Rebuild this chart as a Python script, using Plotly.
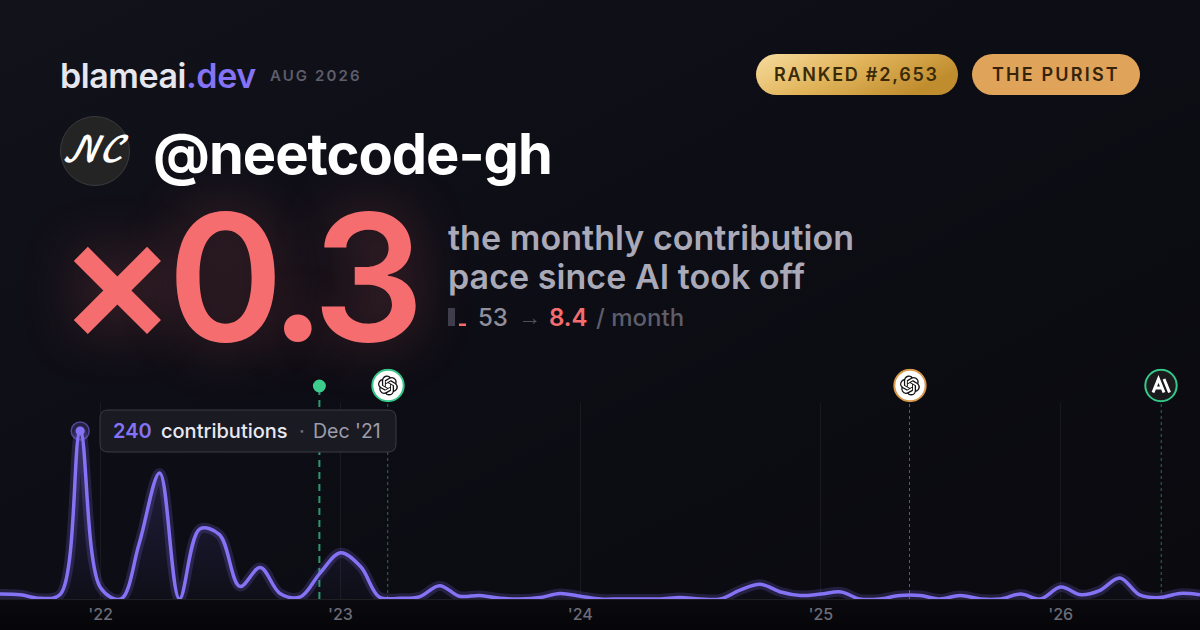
import base64
import pandas as pd
import plotly.graph_objects as go

# monthly contributions, Aug '21 -> Aug '26
months = pd.date_range("2021-08-01", periods=61, freq="MS")
contributions = [
    7, 6, 1, 7, 240, 16, 0, 80, 180, 0, 100, 92,
    18, 45, 8, 3, 37, 66, 46, 3, 1, 3, 19, 4,
    5, 1, 0, 2, 8, 4, 0, 0, 0, 0, 2, 0,
    0, 13, 21, 10, 5, 7, 10, 0, 0, 5, 5, 0,
    5, 0, 0, 7, 0, 17, 6, 12, 30, 6, 2, 8, 6,
]
peak_month = ["2021-12-01"]
peak_value = [240]

# model release markers
event_dates = ["2022-11-30", "2023-03-14", "2025-05-16", "2026-06-03"]
event_colors = ["#34c88a", "#34c88a", "#d9984a", "#34c88a"]

PURPLE = "#8473f4"
RED = "#f66d6f"
FONT = "Inter"
SMOOTH = 1.0

# plot area is y 403..599 in the 630px picture
def px(x):
    return x / 1200

def py(y):
    return (599 - y) / 196

def data_uri(svg):
    return "data:image/svg+xml;base64," + base64.b64encode(svg.encode()).decode()

OPENAI_PATH = ("M22.2819 9.8211a5.9847 5.9847 0 0 0-.5157-4.9108 6.0462 6.0462 0 0 0-6.5098-2.9A6.0651 6.0651 0 0 0 4.9807 4.1818a5.9847 5.9847 0 0 0-3.9977 2.9 6.0462 6.0462 0 0 0 .7427 7.0966 5.98 5.98 0 0 0 .511 4.9107 6.051 6.051 0 0 0 6.5146 2.9001A5.9847 5.9847 0 0 0 13.2599 24a6.0557 6.0557 0 0 0 5.7718-4.2058 5.9894 5.9894 0 0 0 3.9977-2.9001 6.0557 6.0557 0 0 0-.7475-7.0729zm-9.022 12.6081a4.4755 4.4755 0 0 1-2.8764-1.0408l.1419-.0804 4.7783-2.7582a.7948.7948 0 0 0 .3927-.6813v-6.7369l2.02 1.1686a.071.071 0 0 1 .038.052v5.5826a4.504 4.504 0 0 1-4.4945 4.4944zm-9.6607-4.1254a4.4708 4.4708 0 0 1-.5346-3.0137l.142.0852 4.783 2.7582a.7712.7712 0 0 0 .7806 0l5.8428-3.3685v2.3324a.0804.0804 0 0 1-.0332.0615L9.74 19.9502a4.4992 4.4992 0 0 1-6.1408-1.6464zM2.3408 7.8956a4.485 4.485 0 0 1 2.3655-1.9728V11.6a.7664.7664 0 0 0 .3879.6765l5.8144 3.3543-2.0201 1.1685a.0757.0757 0 0 1-.071 0l-4.8303-2.7865A4.504 4.504 0 0 1 2.3408 7.872zm16.5963 3.8558L13.1038 8.364 15.1192 7.2a.0757.0757 0 0 1 .071 0l4.8303 2.7913a4.4944 4.4944 0 0 1-.6765 8.1042v-5.6772a.79.79 0 0 0-.407-.667zm2.0107-3.0231l-.142-.0852-4.7735-2.7818a.7759.7759 0 0 0-.7854 0L9.409 9.2297V6.8974a.0662.0662 0 0 1 .0284-.0615l4.8303-2.7866a4.4992 4.4992 0 0 1 6.6802 4.66zM8.3065 12.863l-2.02-1.1638a.0804.0804 0 0 1-.038-.0567V6.0742a4.4992 4.4992 0 0 1 7.3757-3.4537l-.142.0805L8.704 5.459a.7948.7948 0 0 0-.3927.6813zm1.0976-2.3654l2.602-1.4998 2.6069 1.4998v2.9994l-2.5974 1.4997-2.6067-1.4997Z")

def openai_icon(ring):
    return data_uri(f'''<svg xmlns="http://www.w3.org/2000/svg" width="34" height="34" viewBox="0 0 34 34">
<circle cx="17" cy="17" r="15.7" fill="#fff" stroke="{ring}" stroke-width="2"/>
<g transform="translate(7 7) scale(.83)"><path d="{OPENAI_PATH}" fill="#111"/></g></svg>''')

def anthropic_icon(ring):
    return data_uri(f'''<svg xmlns="http://www.w3.org/2000/svg" width="34" height="34" viewBox="0 0 34 34">
<circle cx="17" cy="17" r="15.7" fill="#1b1b1e" stroke="{ring}" stroke-width="2"/>
<path d="M9 24 14.5 10.5 20 24M11.5 19.5H17.5M20 10.5 25.5 24" fill="none" stroke="#fff" stroke-width="3"/></svg>''')

background = f'''<svg xmlns="http://www.w3.org/2000/svg" width="1200" height="630" viewBox="0 0 1200 630">
<defs>
<linearGradient id="bg" x1="0" y1="0" x2="1" y2="1"><stop offset="0" stop-color="#12121b"/><stop offset=".45" stop-color="#0d0d15"/><stop offset="1" stop-color="#0a0a0f"/></linearGradient>
<linearGradient id="floor" x1="0" y1="0" x2="0" y2="1"><stop offset="0" stop-color="#0a0a0f"/><stop offset="1" stop-color="#060609"/></linearGradient>
<linearGradient id="gold" x1="0" y1="0" x2="1" y2=".4"><stop offset="0" stop-color="#f6dc9e"/><stop offset=".5" stop-color="#e2b55c"/><stop offset="1" stop-color="#c08d2e"/></linearGradient>
</defs>
<rect width="1200" height="630" fill="url(#bg)"/>
<rect y="599" width="1200" height="31" fill="url(#floor)"/>
<rect x="756" y="54" width="202" height="41" rx="20.5" fill="url(#gold)"/>
<rect x="972" y="54" width="168" height="41" rx="20.5" fill="#dfa35a"/>
</svg>'''

fig = go.Figure()
fig.add_trace(go.Scatter(
    x=months, y=contributions, mode="none", fill="tozeroy",
    line=dict(shape="spline", smoothing=SMOOTH),
    fillgradient=dict(type="vertical", colorscale=[[0, "rgba(128,112,240,0.02)"], [1, "rgba(128,112,240,0.22)"]]),
    hoverinfo="skip",
))
fig.add_trace(go.Scatter(
    x=months, y=contributions, mode="lines", cliponaxis=False,
    line=dict(shape="spline", smoothing=SMOOTH, color="rgba(128,112,240,0.2)", width=10),
    hoverinfo="skip",
))
fig.add_trace(go.Scatter(
    x=months, y=contributions, mode="lines", cliponaxis=False,
    line=dict(shape="spline", smoothing=SMOOTH, color=PURPLE, width=3.5),
    hoverinfo="skip",
))
fig.add_trace(go.Scatter(
    x=peak_month, y=peak_value, mode="markers", cliponaxis=False,
    marker=dict(size=18, color="rgba(128,112,240,0.2)", line=dict(color="rgba(128,112,240,0.55)", width=1.5)),
    hoverinfo="skip",
))
fig.add_trace(go.Scatter(
    x=peak_month, y=peak_value, mode="markers", cliponaxis=False,
    marker=dict(size=9, color=PURPLE),
    hoverinfo="skip",
))

shapes = []
# launch line, heavier than the rest
shapes.append(dict(type="line", xref="x", yref="paper", x0=event_dates[0], x1=event_dates[0],
                   y0=0, y1=py(392), layer="below",
                   line=dict(color="rgba(52,200,138,0.75)", width=2, dash="7px,5px")))
for d, c in zip(event_dates[1:], event_colors[1:]):
    shapes.append(dict(type="line", xref="x", yref="paper", x0=d, x1=d, y0=0, y1=py(402), layer="below",
                       opacity=0.55, line=dict(color=c, width=1, dash="3px,3px")))
shapes.append(dict(type="circle", xref="x", yref="paper", xsizemode="pixel", ysizemode="pixel",
                   xanchor=event_dates[0], yanchor=py(386), x0=-6.5, x1=6.5, y0=-6.5, y1=6.5,
                   fillcolor="#3ccf8e", line=dict(width=0)))
# tooltip box
shapes.append(dict(type="path", xref="paper", yref="paper",
                   path=f"M {px(108)} {py(410)} L {px(388)} {py(410)} Q {px(396)} {py(410)} {px(396)} {py(418)} "
                        f"L {px(396)} {py(444)} Q {px(396)} {py(452)} {px(388)} {py(452)} L {px(108)} {py(452)} "
                        f"Q {px(100)} {py(452)} {px(100)} {py(444)} L {px(100)} {py(418)} Q {px(100)} {py(410)} {px(108)} {py(410)} Z",
                   fillcolor="#1a1a23", line=dict(color="#3b3b45", width=1)))
# avatar
shapes.append(dict(type="circle", xref="paper", yref="paper", x0=px(60.5), x1=px(129.5), y0=py(116.5), y1=py(185.5),
                   fillcolor="#242424", line=dict(color="#3a3a3e", width=1)))
# small before/after bars
shapes.append(dict(type="rect", xref="paper", yref="paper", x0=px(448), x1=px(455), y0=py(326), y1=py(308),
                   fillcolor="#3c3d4c", line=dict(width=0)))
shapes.append(dict(type="rect", xref="paper", yref="paper", x0=px(459), x1=px(466), y0=py(326), y1=py(323.5),
                   fillcolor=RED, line=dict(width=0)))

def label(x, y, text, size, color, weight=400, anchor="left", family=FONT, spacing=None, shadow=None, style="normal"):
    if spacing is not None:
        text = f'<span style="letter-spacing:{spacing}px">{text}</span>'
    font = dict(family=family, size=size, color=color, weight=weight, style=style)
    if shadow:
        font["shadow"] = shadow
    return dict(xref="paper", yref="paper", x=px(x), y=py(y), text=text, showarrow=False,
                xanchor=anchor, yanchor="middle", borderpad=0, borderwidth=0, font=font)

annotations = [
    label(60, 75, f'blameai<span style="fill:{PURPLE}">.dev</span>', 34, "#e6e6ef", 600, spacing=-0.45),
    label(270, 75, "AUG 2026", 15, "#5d5d6c", 600, spacing=2.1),
    label(857, 74, "RANKED #2,653", 18, "#3a2a08", 600, "center", spacing=1.75),
    label(1056, 74, "THE PURIST", 18, "#35230a", 600, "center", spacing=2.2),
    label(95, 151, "𝒩𝒞", 34, "#ffffff", 700, "center", family="DejaVu Math TeX Gyre, Liberation Serif", style="italic"),
    label(153, 154, "@neetcode-gh", 56, "#ffffff", 700, spacing=-1),
    label(57.5, 276, "×0.3", 176, RED, 600, spacing=-9, shadow="0 0 60px rgba(246,109,111,0.3)"),
    label(448, 237, "the monthly contribution", 34, "#a9a9b8", 600, spacing=0.05),
    label(448, 276, "pace since AI took off", 34, "#a9a9b8", 600, spacing=0.05),
    label(478, 317, "53", 24, "#90909c", 500),
    label(518, 317, "→", 23, "#50505c", 400, family="Liberation Sans"),
    label(549, 317, "8.4", 24, RED, 600),
    label(596, 317, "/ month", 24, "#5d5d6b", 500),
    label(113, 431, str(peak_value[0]), 20, PURPLE, 600),
    label(161, 431, "contributions", 20, "#e8e8f0", 500),
    label(299, 431, "·", 19, "#6a6a76", 500),
    label(313, 431, "Dec '21", 19.5, "#9d9daa", 400),
]

images = [dict(source=data_uri(background), xref="paper", yref="paper", x=0, y=py(0), sizex=1,
               sizey=630 / 196, xanchor="left", yanchor="top", sizing="stretch", layer="below")]
icons = [(388, openai_icon(event_colors[1])), (910, openai_icon(event_colors[2])), (1161, anthropic_icon(event_colors[3]))]
for x, src in icons:
    images.append(dict(source=src, xref="paper", yref="paper", x=px(x), y=py(385.5), sizex=34 / 1200, sizey=34 / 196,
                       xanchor="center", yanchor="middle", sizing="stretch", layer="above"))

fig.update_layout(
    width=1200, height=630,
    margin=dict(l=0, r=0, t=403, b=31),
    paper_bgcolor="#0b0b11", plot_bgcolor="rgba(0,0,0,0)",
    showlegend=False,
    shapes=shapes, annotations=annotations, images=images,
    font=dict(family=FONT),
    xaxis=dict(
        type="date", range=["2021-08-01", "2026-08-01"], tick0="2022-01-01", dtick="M12",
        tickformat="'%y", ticks="", ticklabelstandoff=1,
        tickfont=dict(family=FONT, size=16, color="#6c6c78", weight=500),
        showgrid=True, gridcolor="rgba(255,255,255,0.055)", gridwidth=1,
        showline=True, linecolor="rgba(255,255,255,0.09)", linewidth=1, zeroline=False,
    ),
    yaxis=dict(range=[0, 280], visible=False),
)

fig.write_html("out.html", config=dict(displayModeBar=False),
               post_script="document.body.style.margin='0';document.body.style.background='#0b0b11';")
